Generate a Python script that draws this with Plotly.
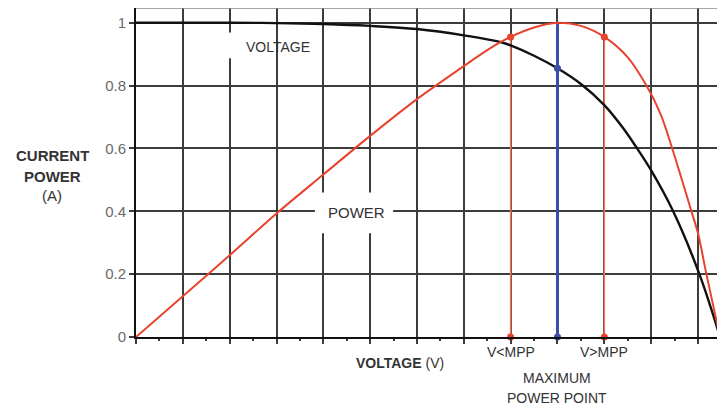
import plotly.graph_objects as go

# Power curve (normalised)
v_power = [0, 1, 2, 3, 4, 5, 6, 7, 7.5, 8, 8.5, 9, 9.5, 10, 10.5, 10.9, 11.2, 11.45, 11.85, 12, 12.18, 12.47]
power = [0, 0.13, 0.26, 0.393, 0.517, 0.64, 0.757, 0.862, 0.913, 0.955, 0.985, 1.0, 0.99, 0.955, 0.89, 0.8, 0.71, 0.6, 0.405, 0.33, 0.2, 0]

# Current curve (labelled "VOLTAGE" in the original)
v_current = [0, 2, 3, 4, 5, 6, 7, 7.8, 8, 8.5, 9, 9.5, 10, 10.4, 10.7, 11, 11.47, 12.03, 12.47]
current = [1.0, 1.0, 0.999, 0.996, 0.99, 0.98, 0.96, 0.938, 0.928, 0.895, 0.855, 0.805, 0.738, 0.665, 0.6, 0.53, 0.4, 0.2, 0]

# Operating points
v_low, p_low = 8, 0.955
v_mpp, p_mpp, i_mpp = 9, 1.0, 0.855
v_high, p_high = 10, 0.955
mpp_marker_below = -0.077

y_ticks = [0, 0.2, 0.4, 0.6, 0.8, 1]
y_ticktext = ["0", "0.2", "0.4", "0.6", "0.8", "1"]

RED = "#e8432e"
SALMON = "#f2735e"
BLUE = "#3b4ea6"
GRID = "#3c3c3c"
TXT = "#333333"
FONT = "Arial, Liberation Sans, sans-serif"
Y_TOP = 1.047

# page offset (browser body margin) compensation
OFF = 8
W, H = 725 - OFF, 410 - OFF
L, R, T, B = 136 - OFF, 5, 0, 72.7
pw, ph = W - L - R, H - T - B


def page_to_paper(px, py):
    return (px - OFF - L) / pw, (H - B - (py - OFF)) / ph


fig = go.Figure()

# vertical operating lines
fig.add_trace(go.Scatter(x=[v_low, v_low], y=[0, p_low], mode="lines",
                         line=dict(color=SALMON, width=1.6), hoverinfo="skip"))
fig.add_trace(go.Scatter(x=[v_high, v_high], y=[0, p_high], mode="lines",
                         line=dict(color=SALMON, width=1.6), hoverinfo="skip"))
fig.add_trace(go.Scatter(x=[v_mpp, v_mpp], y=[0, mpp_marker_below], mode="lines",
                         line=dict(color="#8090d0", width=1.2, dash="dot"), cliponaxis=False, hoverinfo="skip"))
fig.add_trace(go.Scatter(x=[v_mpp, v_mpp], y=[0, p_mpp], mode="lines",
                         line=dict(color=BLUE, width=3), hoverinfo="skip"))

# curves
fig.add_trace(go.Scatter(x=v_current, y=current, mode="lines",
                         line=dict(color="#111111", width=2.4, shape="spline", smoothing=1.0)))
fig.add_trace(go.Scatter(x=v_power, y=power, mode="lines",
                         line=dict(color=RED, width=2, shape="spline", smoothing=0.9)))

# markers
fig.add_trace(go.Scatter(x=[v_low, v_low, v_high, v_high], y=[p_low, 0, p_high, 0], mode="markers",
                         marker=dict(color=RED, size=7), cliponaxis=False))
fig.add_trace(go.Scatter(x=[v_mpp, v_mpp, v_mpp], y=[i_mpp, 0, mpp_marker_below], mode="markers",
                         marker=dict(color=BLUE, size=7), cliponaxis=False))

# white gaps behind inline labels
fig.add_shape(type="rect", x0=3.82, x1=5.49, y0=0.33, y1=0.46, xref="x", yref="y",
              fillcolor="white", line=dict(width=0), layer="above")
fig.add_shape(type="rect", x0=1.92, x1=2.08, y0=0.887, y1=0.969, xref="x", yref="y",
              fillcolor="white", line=dict(width=0), layer="above")
# top and right frame
fig.add_shape(type="line", x0=0, x1=1, y0=1, y1=1, xref="paper", yref="paper",
              line=dict(color="#8a8a8a", width=1.5))
fig.add_shape(type="line", x0=1, x1=1, y0=0, y1=1, xref="paper", yref="paper",
              line=dict(color="#9a9a9a", width=1.5))

# labels inside the plot (data coords)
for x, y, txt, size in [(3.03, 0.923, "VOLTAGE", 14), (4.7, 0.395, "POWER", 15)]:
    fig.add_annotation(x=x, y=y, xref="x", yref="y", text=txt, showarrow=False,
                       xanchor="center", yanchor="middle",
                       font=dict(family=FONT, size=size, color=TXT))

# labels below the axis (x in data, y in paper)
for x, yv, txt in [(v_low, -0.047, "V&lt;MPP"), (v_high, -0.047, "V&gt;MPP"),
                   (v_mpp, -0.129, "MAXIMUM"), (v_mpp, -0.193, "POWER POINT"),
                   (5.64, -0.082, "<b>VOLTAGE</b> (V)")]:
    fig.add_annotation(x=x, y=yv / Y_TOP, xref="x", yref="paper", text=txt, showarrow=False,
                       xanchor="center", yanchor="middle",
                       font=dict(family=FONT, size=14, color=TXT))

# left axis title
for txt, py in [("<b>CURRENT</b>", 156), ("<b>POWER</b>", 177), ("(A)", 196)]:
    px_, py_ = page_to_paper(52, py)
    fig.add_annotation(x=px_, y=py_, xref="paper", yref="paper", text=txt, showarrow=False,
                       xanchor="center", yanchor="middle",
                       font=dict(family=FONT, size=15, color=TXT))

fig.update_layout(
    width=W, height=H,
    margin=dict(l=L, r=R, t=T, b=B, pad=0),
    paper_bgcolor="white", plot_bgcolor="white",
    showlegend=False,
    xaxis=dict(range=[0, 12.47], dtick=1, tick0=0, showgrid=True, gridcolor=GRID, gridwidth=2,
               showticklabels=False, ticks="outside", ticklen=5, tickwidth=2, tickcolor=GRID,
               minor=dict(dtick=0.5, ticks="outside", ticklen=2, tickwidth=1.5, tickcolor=GRID, showgrid=False),
               showline=True, linecolor="#111111", linewidth=2, zeroline=False, fixedrange=True),
    yaxis=dict(range=[0, Y_TOP], tickvals=y_ticks, ticktext=y_ticktext, showgrid=True, gridcolor=GRID, gridwidth=2,
               ticks="outside", ticklen=5, tickwidth=2, tickcolor=GRID,
               tickfont=dict(family=FONT, size=15, color="#6a6a6a"),
               showline=True, linecolor="#111111", linewidth=2, zeroline=False, fixedrange=True),
)

fig.write_html("out.html")
